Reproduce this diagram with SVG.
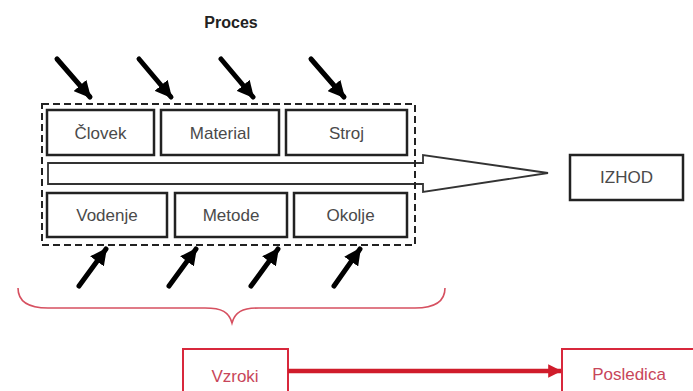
<svg xmlns="http://www.w3.org/2000/svg" width="693" height="391" viewBox="0 0 693 391">
<style>
  .box { fill: #fff; stroke: #222; stroke-width: 2.5; }
  .lbl { font-family: "Liberation Sans", Arial, sans-serif; font-size: 17px; fill: #4a4a4a; text-anchor: middle; }
  .rbox { fill: #fff; stroke: #d8283c; stroke-width: 2; }
  .rlbl { font-family: "Liberation Sans", Arial, sans-serif; font-size: 17px; fill: #c8465a; text-anchor: middle; }
  .blk { stroke: #000; stroke-width: 5; stroke-linecap: round; fill: none; }
  .dash { fill: none; stroke: #222; stroke-width: 2; stroke-dasharray: 7 4; }
</style>
<defs>
  <marker id="bh" viewBox="0 0 10 10" refX="9" refY="5" markerWidth="3.4" markerHeight="3.4" orient="auto" markerUnits="strokeWidth">
    <path d="M0,0 L10,5 L0,10 Z" fill="#000"/>
  </marker>
  <marker id="rh" viewBox="0 0 10 10" refX="9.5" refY="5" markerWidth="4" markerHeight="3" orient="auto" markerUnits="strokeWidth">
    <path d="M0,0 L10,5 L0,10 Z" fill="#d01c2b"/>
  </marker>
</defs>
<rect width="693" height="391" fill="#fff"/>

<g id="title">
  <text x="231" y="28" font-family="'Liberation Sans', Arial, sans-serif" font-size="16" font-weight="bold" fill="#222" text-anchor="middle">Proces</text>
</g>

<g id="process-arrow">
  <polygon points="48,163 423,163 423,155 548,173 423,192 423,184 48,184" fill="#fff" stroke="#333" stroke-width="1.8" stroke-linejoin="miter"/>
</g>

<g id="process-frame">
  <rect class="dash" x="42" y="104" width="373" height="141"/>
</g>

<g id="clovek"><rect class="box" x="47" y="110" width="107" height="45"/><text class="lbl" x="100.5" y="139">Človek</text></g>
<g id="material"><rect class="box" x="161" y="110" width="118" height="45"/><text class="lbl" x="220" y="139">Material</text></g>
<g id="stroj"><rect class="box" x="286" y="110" width="121" height="45"/><text class="lbl" x="346.5" y="139">Stroj</text></g>
<g id="vodenje"><rect class="box" x="47" y="193" width="120" height="44"/><text class="lbl" x="107" y="221">Vodenje</text></g>
<g id="metode"><rect class="box" x="175" y="193" width="112" height="44"/><text class="lbl" x="231" y="221">Metode</text></g>
<g id="okolje"><rect class="box" x="294" y="193" width="113" height="44"/><text class="lbl" x="350.5" y="221">Okolje</text></g>

<g id="izhod"><rect class="box" x="570" y="155" width="113" height="45" stroke-width="2"/><text class="lbl" x="626.5" y="183" font-size="16">IZHOD</text></g>

<g id="brace">
  <path d="M18,288 C18,302 28,308 48,308 L205,308 C222,308 229,312 232,323 C235,312 242,308 259,308 L415,308 C435,308 445,302 445,288" fill="none" stroke="#d65060" stroke-width="1.6"/>
</g>

<g id="vzroki"><rect class="rbox" x="183" y="349" width="105" height="50"/><text class="rlbl" x="235" y="382">Vzroki</text></g>
<g id="posledica"><rect class="rbox" x="562" y="349" width="140" height="50"/><text class="rlbl" x="629" y="380">Posledica</text></g>

<g id="connectors">
  <line class="blk" x1="57" y1="59" x2="90" y2="97" marker-end="url(#bh)"/>
  <line class="blk" x1="139" y1="59" x2="171" y2="97" marker-end="url(#bh)"/>
  <line class="blk" x1="221" y1="59" x2="253" y2="97" marker-end="url(#bh)"/>
  <line class="blk" x1="311" y1="59" x2="344" y2="97" marker-end="url(#bh)"/>
  <line class="blk" x1="79" y1="286" x2="106" y2="249" marker-end="url(#bh)"/>
  <line class="blk" x1="169" y1="286" x2="196" y2="249" marker-end="url(#bh)"/>
  <line class="blk" x1="251" y1="286" x2="278" y2="249" marker-end="url(#bh)"/>
  <line class="blk" x1="334" y1="286" x2="360" y2="249" marker-end="url(#bh)"/>
  <line x1="288" y1="371" x2="561" y2="371" stroke="#d01c2b" stroke-width="4.5" marker-end="url(#rh)"/>
</g>
</svg>
